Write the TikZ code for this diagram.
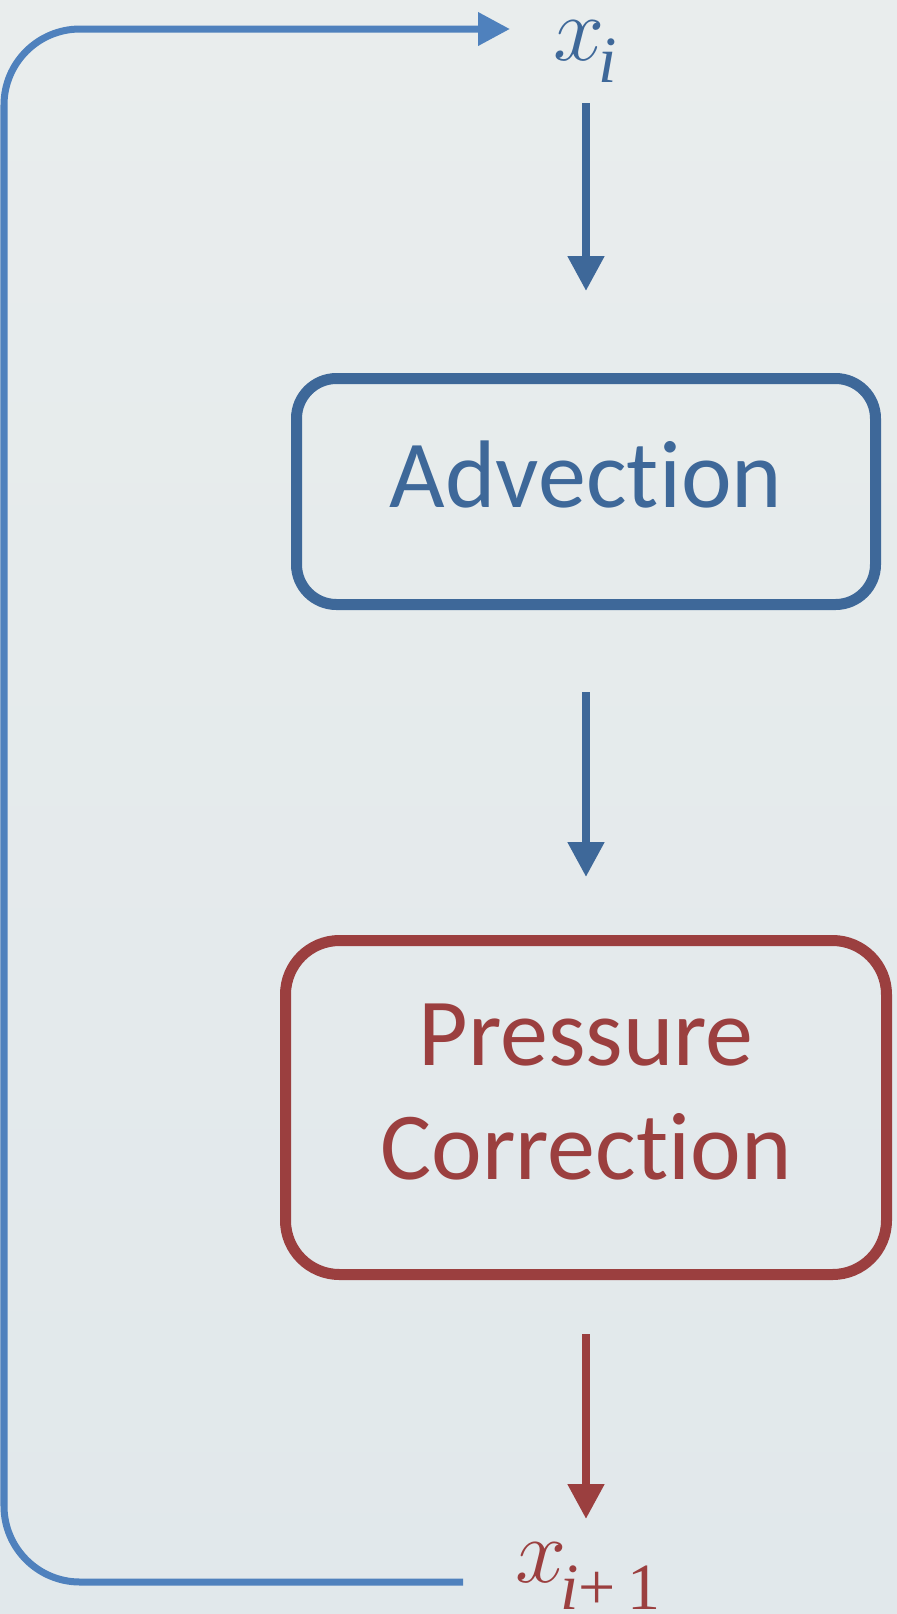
\RequirePackage{fix-cm}
\documentclass[tikz,border=0pt]{standalone}
\usepackage{fontspec}
\setmainfont{Carlito}[Ligatures=NoCommon]
\newfontfamily\varfont{Liberation Serif}
\usetikzlibrary{arrows.meta}
\definecolor{advblue}{HTML}{3E6899}
\definecolor{loopblue}{HTML}{4F81BD}
\definecolor{corrred}{HTML}{9B3F3F}
\definecolor{bgtop}{HTML}{E9EDED}
\definecolor{bgbot}{HTML}{E1E8EB}
\newcommand{\subidx}[2]{\kern-3pt\raisebox{-#1}{\fontsize{33}{33}\varfont #2}}
\tikzset{stepbox/.style={draw=#1, text=#1, line width=5.5pt, align=center, font=\fontsize{48}{57}\selectfont},
flow/.style={draw=#1, line width=4pt, -{Triangle[length=17.5pt,width=17.5pt]}},
backline/.style={draw=loopblue, line width=3.5pt, rounded corners=38pt},
%state labels above and below the loop
statevar/.style={text=#1, inner sep=0pt, anchor=base west, font=\fontsize{46}{46}\selectfont}}

\begin{document}
\begin{tikzpicture}[x=0.5pt, y=-0.5pt]
\shade[top color=bgtop, bottom color=bgbot] (0,0) rectangle (897,1614);
\useasboundingbox (0,0) rectangle (897,1614);
%\draw[step=100,color=gray] (0,0) grid (897,1614);
\node[statevar=advblue] (xi) at (553,60) {$x$\subidx{11pt}{\itshape i}};
\node[stepbox=advblue, rounded corners=20pt, minimum width=289.5pt, minimum height=113pt, text depth=17.5pt] (adv) at (586,491.5) {Advection};
\node[stepbox=corrred, rounded corners=27pt, minimum width=300.5pt, minimum height=167pt, text depth=15.5pt] (pc) at (586,1107.5) {Pressure\\Correction};
\node[statevar=corrred] (xnext) at (515,1582) {$x$\subidx{13.5pt}{\itshape i\upshape+\kern5.5pt 1}};
\draw[flow=advblue, shorten <=21.5pt, shorten >=41pt] (adv.north |- xi.base) -- (adv.north);
\draw[flow=advblue, shorten <=41pt, shorten >=29pt] (adv.south) -- (pc.north);
\draw[flow=corrred, shorten <=27pt, shorten >=31.5pt] (pc.south) -- (pc.south |- xnext.base);
% feedback from x_{i+1} back to x_i
\coordinate (loopin) at (463,1582);
\coordinate (loopout) at (510,29);
\draw[backline, -{Triangle[length=16pt,width=16pt]}] (loopin) -- (4,1582) -- (4,29) -- (loopout);
\end{tikzpicture}
\end{document}
